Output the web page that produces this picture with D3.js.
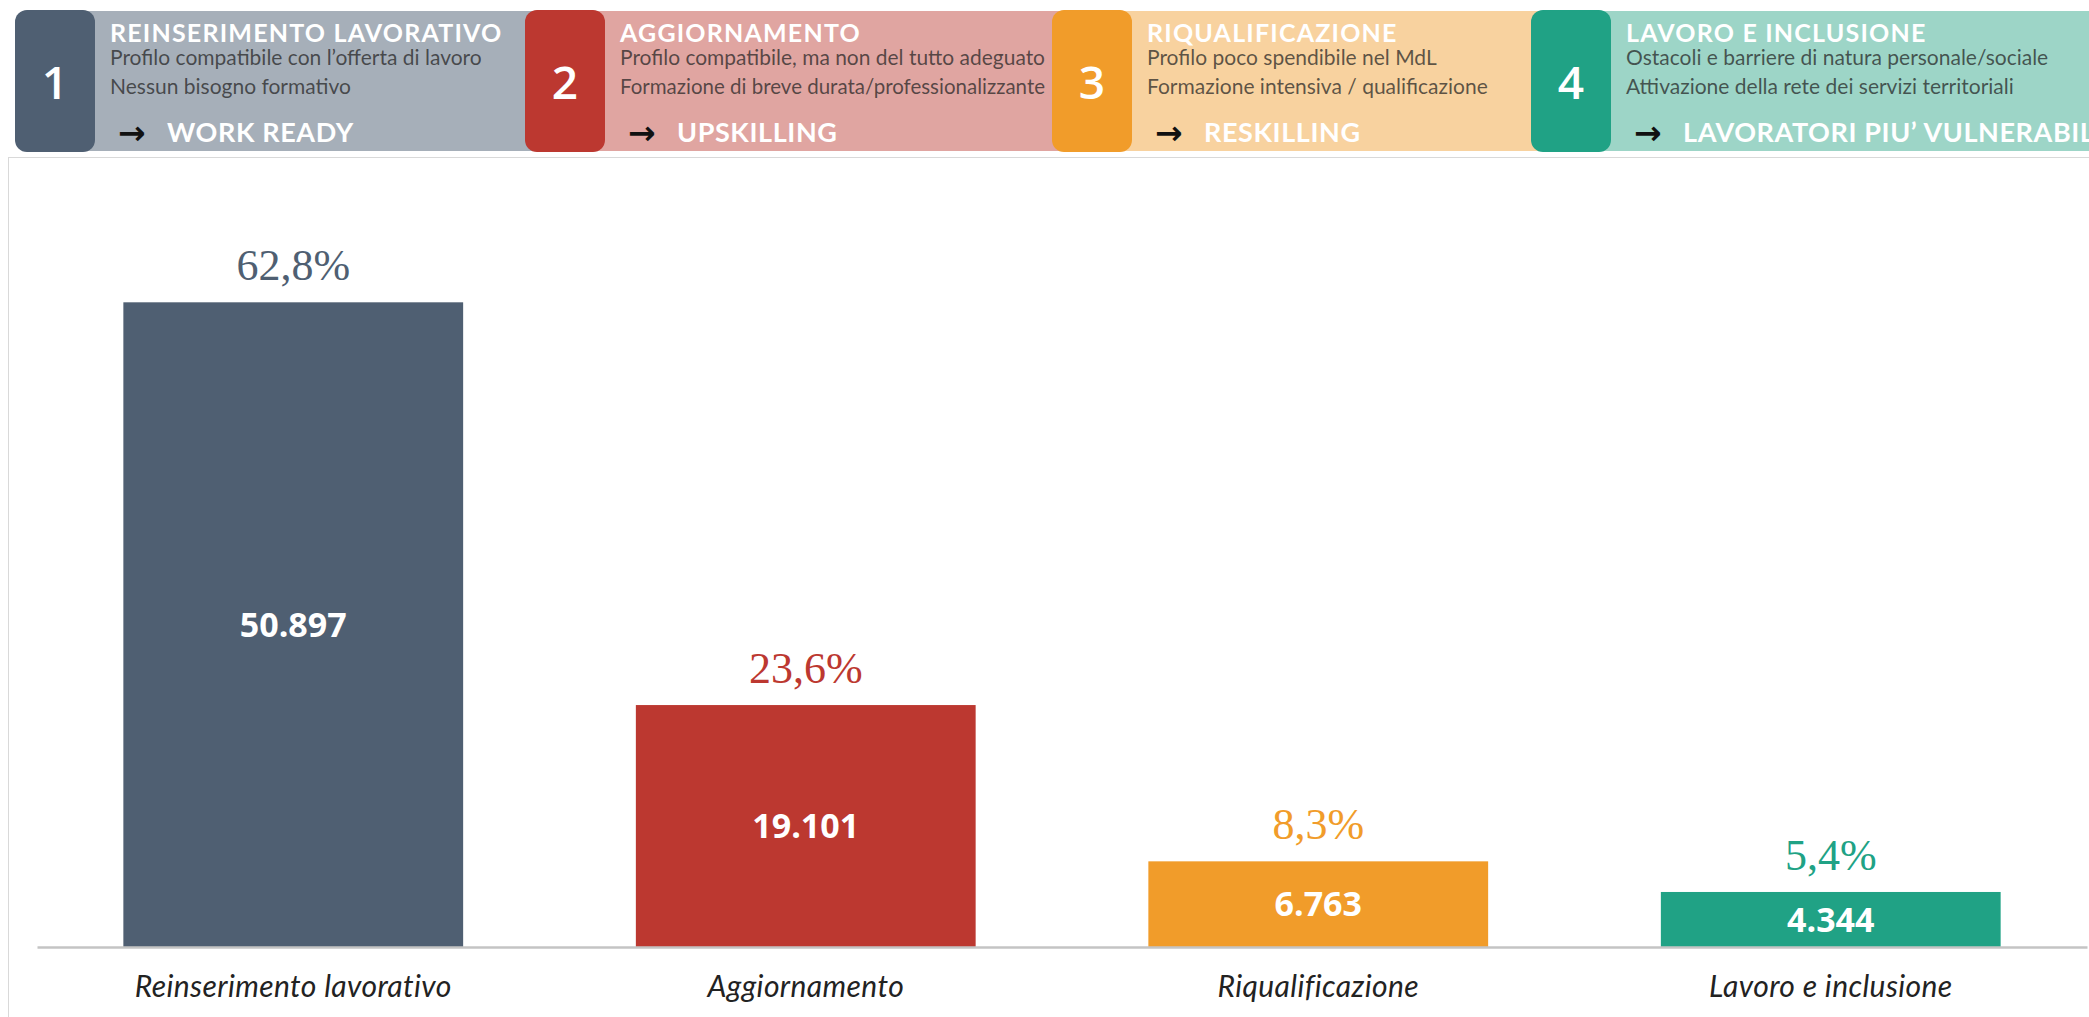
<!DOCTYPE html>
<html>
<head>
    <meta charset="UTF-8">
    <title>Profili di occupabilità</title>
    <style>
        body { margin: 0; background: #fff; }
        .cat text { font-family: Lato, "Open Sans", sans-serif; font-style: italic; font-size: 30px; letter-spacing: 0.4px; fill: #222; }
        .share { font-family: "Liberation Serif", "Times New Roman", serif; font-size: 44px; }
        .count { font-family: "Open Sans", sans-serif; font-weight: 700; font-size: 34px; fill: #fff; }
        .hd-num { font-family: "Open Sans", sans-serif; font-weight: 600; font-size: 46px; fill: #fff; }
        .hd-title { font-family: Lato, sans-serif; font-weight: 700; font-size: 25px; letter-spacing: 1.2px; fill: #fff; }
        .hd-line { font-family: Lato, sans-serif; font-size: 21px; fill: #222; fill-opacity: 0.72; }
        .hd-arrow { font-family: "DejaVu Sans", sans-serif; font-weight: 700; font-size: 33px; fill: #111; }
        .hd-target { font-family: Lato, sans-serif; font-weight: 700; font-size: 27px; letter-spacing: 0.6px; fill: #fff; }
    </style>
</head>
<body>
<script src="https://cdn.jsdelivr.net/npm/d3@7"></script>
<script>
    // data
    var categories = ["Reinserimento lavorativo", "Aggiornamento", "Riqualificazione", "Lavoro e inclusione"];
    var counts = [50897, 19101, 6763, 4344];
    var shares = [62.8, 23.6, 8.3, 5.4];

    var headerNumbers = ["1", "2", "3", "4"];
    var headerTitles = ["REINSERIMENTO LAVORATIVO", "AGGIORNAMENTO", "RIQUALIFICAZIONE", "LAVORO E INCLUSIONE"];
    var headerLine1 = ["Profilo compatibile con l\u2019offerta di lavoro", "Profilo compatibile, ma non del tutto adeguato",
        "Profilo poco spendibile nel MdL", "Ostacoli e barriere di natura personale/sociale"];
    var headerLine2 = ["Nessun bisogno formativo", "Formazione di breve durata/professionalizzante",
        "Formazione intensiva / qualificazione", "Attivazione della rete dei servizi territoriali"];
    var headerTargets = ["WORK READY", "UPSKILLING", "RESKILLING", "LAVORATORI PIU\u2019 VULNERABILI"];

    // styles
    var barColors = ["#4f5f72", "#bc3830", "#f19c2a", "#20a285"];
    var panelColors = ["#a6afb9", "#e0a5a1", "#f8d29f", "#9dd5c7"];
    var headerX = [15, 525, 1052, 1531]; // left edge of each numbered square

    var W = 2089, H = 1017;
    var it = d3.formatLocale({decimal: ",", thousands: ".", grouping: [3], currency: ["", "\u20ac"]});
    var fmtCount = it.format(",d"), fmtShare = it.format(",.1f");

    var svg = d3.select("body").append("svg")
        .attr("width", W)
        .attr("height", H);

    // squeeze a header line if it would run under the next square
    function fit(sel, maxW) {
        var n = sel.node();
        if (maxW && n.getComputedTextLength() > maxW) {
            sel.attr("textLength", maxW).attr("lengthAdjust", "spacingAndGlyphs");
        }
    }

    // header strip
    var hd = svg.append("g").attr("class", "header");
    headerX.forEach(function (x0, i) {
        var x1 = i < 3 ? headerX[i + 1] + 20 : W + 20;
        hd.append("rect")
            .attr("x", x0 + 40).attr("y", 11)
            .attr("width", x1 - x0 - 40).attr("height", 140)
            .attr("fill", panelColors[i]);
    });
    headerX.forEach(function (x0, i) {
        var maxW = i < 3 ? headerX[i + 1] - x0 - 95 - 7 : 0;
        var g = hd.append("g").attr("transform", "translate(" + x0 + ",0)");
        g.append("rect")
            .attr("x", 0).attr("y", 10)
            .attr("width", 80).attr("height", 142)
            .attr("rx", 12)
            .attr("fill", barColors[i]);
        g.append("text").attr("class", "hd-num")
            .attr("x", 40).attr("y", 99)
            .attr("text-anchor", "middle")
            .text(headerNumbers[i]);
        g.append("text").attr("class", "hd-title")
            .attr("x", 95).attr("y", 42)
            .text(headerTitles[i]);
        fit(g.append("text").attr("class", "hd-line")
            .attr("x", 95).attr("y", 65)
            .text(headerLine1[i]), maxW);
        fit(g.append("text").attr("class", "hd-line")
            .attr("x", 95).attr("y", 94)
            .text(headerLine2[i]), maxW);
        g.append("text").attr("class", "hd-arrow")
            .attr("x", 103).attr("y", 144)
            .text("\u2192");
        g.append("text").attr("class", "hd-target")
            .attr("x", 152).attr("y", 142)
            .text(headerTargets[i]);
    });

    // chart frame
    svg.append("rect")
        .attr("x", 8.5).attr("y", 157.5)
        .attr("width", W + 20).attr("height", H)
        .attr("fill", "#fff")
        .attr("stroke", "#d9d9d9");

    // scales
    var x = d3.scaleBand()
        .domain(categories)
        .range([37, 2087])
        .paddingInner(0.337)
        .paddingOuter(0.1685);

    var y = d3.scaleLinear()
        .domain([0, 60000])
        .range([947, 187]);

    var rows = categories.map(function (c, i) {
        return {cat: c, count: counts[i], share: shares[i], color: barColors[i]};
    });

    // bars
    svg.selectAll(".bar")
        .data(rows)
        .enter().append("rect")
        .attr("class", "bar")
        .attr("x", function (d) { return x(d.cat); })
        .attr("y", function (d) { return y(d.count); })
        .attr("width", x.bandwidth())
        .attr("height", function (d) { return y(0) - y(d.count); })
        .attr("fill", function (d) { return d.color; });

    // values inside bars
    svg.selectAll(".count")
        .data(rows)
        .enter().append("text")
        .attr("class", "count")
        .attr("x", function (d) { return x(d.cat) + x.bandwidth() / 2; })
        .attr("y", function (d) { return (y(d.count) + y(0)) / 2; })
        .attr("dy", "0.36em")
        .attr("text-anchor", "middle")
        .text(function (d) { return fmtCount(d.count); });

    // shares above bars
    svg.selectAll(".share")
        .data(rows)
        .enter().append("text")
        .attr("class", "share")
        .attr("x", function (d) { return x(d.cat) + x.bandwidth() / 2; })
        .attr("y", function (d) { return y(d.count) - 22; })
        .attr("text-anchor", "middle")
        .attr("fill", function (d) { return d.color; })
        .text(function (d) { return fmtShare(d.share) + "%"; });

    // x axis
    var axis = svg.append("g")
        .attr("class", "cat")
        .attr("transform", "translate(0," + y(0) + ")")
        .call(d3.axisBottom(x).tickSize(0).tickSizeOuter(0).tickPadding(29));
    axis.select(".domain").attr("stroke", "#c4c4c4").attr("stroke-width", 2.5);
</script>
</body>
</html>
